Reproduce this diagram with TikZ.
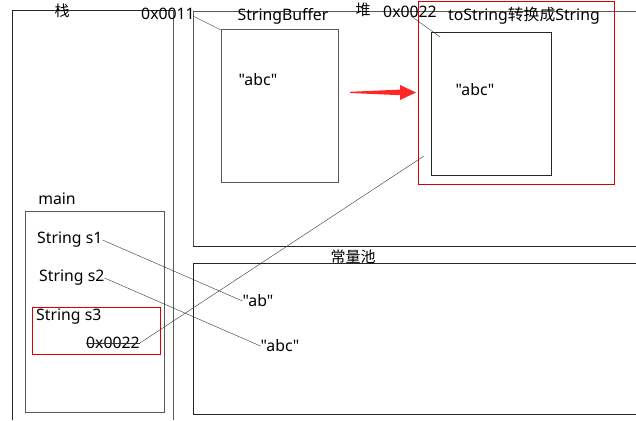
\documentclass[tikz,border=0pt]{standalone}
\usepackage{fontspec}
\newfontfamily\latfont{Noto Sans}
\newfontfamily\cjkfont{Noto Sans CJK SC}
\usetikzlibrary{arrows.meta}
\begin{document}
\begin{tikzpicture}[x=1pt,y=-1pt,
  txt/.style={inner sep=0pt,font=\latfont\fontsize{15.8}{18}\selectfont},
  ctxt/.style={inner sep=0pt,font=\cjkfont\fontsize{15}{18}\selectfont},
  gbox/.style={draw=black!65,line width=0.8pt},
  bbox/.style={draw=black!85,line width=0.7pt},
  rbox/.style={draw=red!85!black,line width=0.8pt},
  link/.style={draw=black!80,line width=0.4pt}]
\useasboundingbox (0,0) rectangle (636,420);
% stack
\draw[bbox] (12,420) -- (12,10) -- (173,10);
\draw[gbox] (173,10) -- (173,420);
\node[ctxt] (zhan) at (62,11) {栈};
% heap
\draw[gbox] (193,246) -- (193,11) -- (636,11);
\draw[bbox] (193,246) -- (636,246);
\node[ctxt] (dui) at (363,10) {堆};
% constant pool
\draw[bbox] (636,263) -- (193,263) -- (193,414) -- (636,414);
\node[ctxt] (pool) at (353,257) {常量池};
% main
\node[txt] (mainlbl) at (57,199) {main};
\draw[gbox] (25,211) rectangle (164,412);
\node[txt,anchor=west] (s1) at (37,240) {String s1};
\node[txt,anchor=west] (s2) at (39,278) {String s2};
\node[txt,anchor=west] (s3) at (36,317) {String s3};
\node[txt,anchor=west] (addr3) at (86,343) {0x0022};
\draw[black!80,line width=0.5pt] (addr3.west) -- (addr3.east);
\draw[rbox] (32,307) rectangle (160,354);
% StringBuffer
\draw[gbox] (221,29) rectangle (338,182);
\node[txt] (sblbl) at (283,16) {StringBuffer};
\node[txt] (sbaddr) at (168,14) {0x0011};
\node[txt] (sbabc) at (258,80) {"abc"};
\coordinate (sbc) at (221,30);
\draw[link] (sbaddr.east) ++(-2,2) -- (sbc);
% red arrow (tapered)
\fill[red!85] (350,91.8) -- (400,89.6) -- (400,85) -- (416,92.5) -- (400,100) -- (400,95.2) -- (350,93) -- cycle;
% String box
\draw[rbox] (418,1) rectangle (614,184);
\draw[bbox] (431,32) rectangle (551,175);
\node[txt] (tslbl) at (524,16) {toString\cjkfont 转换成\latfont String};
\node[txt] (straddr) at (410,12) {0x0022};
\node[txt] (strabc) at (475,90) {"abc"};
\coordinate (strc) at (440,37);
\draw[link] (411,16) -- (strc);
\coordinate (strin) at (424,156);
% constants
\node[txt] (ab) at (258,301) {"ab"};
\node[txt] (abc) at (280,346) {"abc"};
\draw[link] (s1.east) -- (ab.west);
\draw[link] (s2.east) -- (abc.west);
\draw[link] (addr3.east) -- (strin);
\end{tikzpicture}
\end{document}
